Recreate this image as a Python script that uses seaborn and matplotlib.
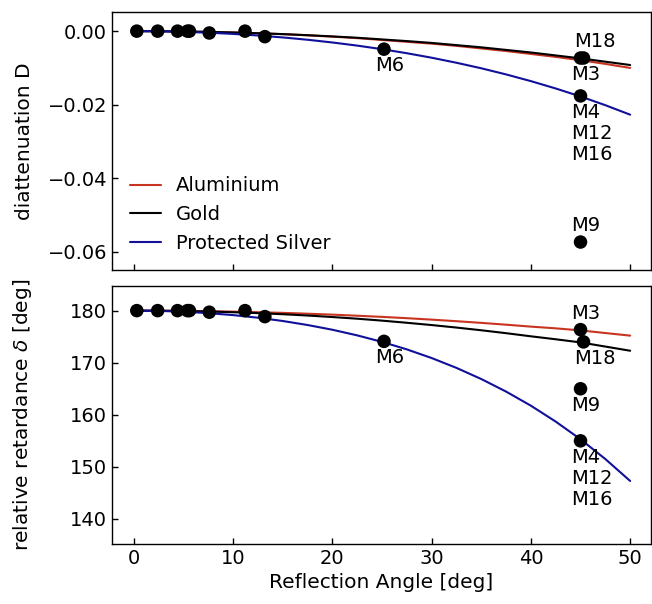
import matplotlib
matplotlib.use('Agg')
import matplotlib.pyplot as plt
import seaborn as sns
import pandas as pd

# Model curves, every 2.5 deg
curve_angle = [0, 2.5, 5, 7.5, 10, 12.5, 15, 17.5, 20, 22.5, 25,
               27.5, 30, 32.5, 35, 37.5, 40, 42.5, 45, 47.5, 50]
coatings = ['Aluminium', 'Gold', 'Protected Silver']
diatt_al = [0, -0.00002, -0.00009, -0.00021, -0.00037, -0.00058, -0.00083, -0.00114, -0.0015, -0.0019, -0.0024,
            -0.0029, -0.0034, -0.0040, -0.0047, -0.0054, -0.0062, -0.0070, -0.0079, -0.0089, -0.0100]
diatt_au = [0, -0.00002, -0.00009, -0.0002, -0.00036, -0.00056, -0.0008, -0.0011, -0.00143, -0.0018, -0.00225,
            -0.0027, -0.0032, -0.0038, -0.0044, -0.0051, -0.0058, -0.0066, -0.0074, -0.0083, -0.0092]
diatt_ag = [0, -0.00005, -0.00019, -0.00042, -0.00075, -0.00118, -0.00171, -0.00234, -0.00308, -0.00393, -0.0049,
            -0.0060, -0.00722, -0.00859, -0.01009, -0.01176, -0.01358, -0.01558, -0.01775, -0.02012, -0.0227]
ret_al = [180, 179.99, 179.95, 179.89, 179.81, 179.7, 179.57, 179.41, 179.23, 179.02, 178.8,
          178.55, 178.27, 177.97, 177.65, 177.3, 176.93, 176.6, 176.2, 175.7, 175.2]
ret_au = [180, 179.98, 179.92, 179.83, 179.69, 179.52, 179.31, 179.06, 178.77, 178.45, 178.08,
          177.67, 177.23, 176.75, 176.23, 175.67, 175.07, 174.5, 173.9, 173.1, 172.3]
ret_ag = [180, 179.95, 179.79, 179.52, 179.14, 178.64, 178.01, 177.24, 176.33, 175.25, 174.0,
          172.56, 170.9, 169.01, 166.87, 164.46, 161.75, 158.7, 155.3, 151.51, 147.3]

# Measured mirrors
mirror_angle = [0.3, 2.4, 4.4, 5.4, 5.6, 7.6, 11.2, 13.2, 25.2, 45.0, 45.0, 45.0, 45.3]
mirror_diatt = [0, 0, 0, 0, 0, -0.0005, 0, -0.0015, -0.0049, -0.0176, -0.0573, -0.0073, -0.0073]
mirror_ret = [180, 180, 180, 180, 180, 179.7, 180, 178.85, 174.1, 155.0, 165.0, 176.35, 174.0]
mirror_label = ['', '', '', '', '', '', '', '', 'M6', 'M4\nM12\nM16', 'M9', 'M3', 'M18']
label_pos_top = ['', '', '', '', '', '', '', '', 'below', 'below', 'above', 'below', 'above']
label_pos_bottom = ['', '', '', '', '', '', '', '', 'below', 'below', 'below', 'above', 'below']

colors = {'Aluminium': '#c8341f', 'Gold': 'black', 'Protected Silver': '#10109a'}

rows = []
for name, d, r in zip(coatings, [diatt_al, diatt_au, diatt_ag], [ret_al, ret_au, ret_ag]):
    for a, dv, rv in zip(curve_angle, d, r):
        rows.append({'angle': a, 'D': dv, 'delta': rv, 'coating': name})
curves = pd.DataFrame(rows)
points = pd.DataFrame({'angle': mirror_angle, 'D': mirror_diatt, 'delta': mirror_ret})

sns.set_style('ticks')
plt.rcParams['font.family'] = ['DejaVu Sans']
plt.rcParams['font.size'] = 14
for key in ['text.color', 'axes.labelcolor', 'xtick.color', 'ytick.color', 'axes.edgecolor']:
    plt.rcParams[key] = 'black'

fig, (ax1, ax2) = plt.subplots(2, 1, figsize=(6.52, 6.04), dpi=100, sharex=True)
fig.subplots_adjust(left=112/652, right=651/652, top=1-12/604, bottom=1-544/604, hspace=0.059)

for ax, col, pos in [(ax1, 'D', label_pos_top), (ax2, 'delta', label_pos_bottom)]:
    sns.lineplot(data=curves, x='angle', y=col, hue='coating', hue_order=coatings,
                 palette=colors, linewidth=1.5, ax=ax, legend=(ax is ax1))
    sns.scatterplot(data=points, x='angle', y=col, color='black', s=95,
                    edgecolor='none', zorder=3, ax=ax, legend=False)
    for a, v, lab, p in zip(mirror_angle, points[col], mirror_label, pos):
        if not lab:
            continue
        if p == 'above':
            ax.annotate(lab, (a, v), xytext=(-6.5, 5), textcoords='offset points',
                        ha='left', va='bottom', fontsize=14, linespacing=1.15)
        else:
            ax.annotate(lab, (a, v), xytext=(-6.5, -5), textcoords='offset points',
                        ha='left', va='top', fontsize=14, linespacing=1.15)
    ax.tick_params(direction='in', length=4, width=1, labelsize=14)
    for s in ax.spines.values():
        s.set_linewidth(1.0)
        s.set_visible(True)

ax1.set_xlim(-2.2, 52.1)
ax1.set_ylim(-0.065, 0.0052)
ax1.set_yticks([0, -0.02, -0.04, -0.06])
ax2.set_ylim(135.2, 184.8)
ax2.set_yticks([140, 150, 160, 170, 180])
ax2.set_xticks([0, 10, 20, 30, 40, 50])

ax1.set_xlabel('')
ax1.set_ylabel('diattenuation D', fontsize=14.5, labelpad=10)
ax2.set_ylabel(r'relative retardance $\delta$ [deg]', fontsize=14.5, labelpad=10)
ax2.set_xlabel('Reflection Angle [deg]', fontsize=14.5)
fig.align_ylabels([ax1, ax2])

ax1.legend(loc='lower left', bbox_to_anchor=(0, 0.0), frameon=False,
           fontsize=14, handlelength=1.6, title=None)

fig.savefig('out.png', dpi=100)
